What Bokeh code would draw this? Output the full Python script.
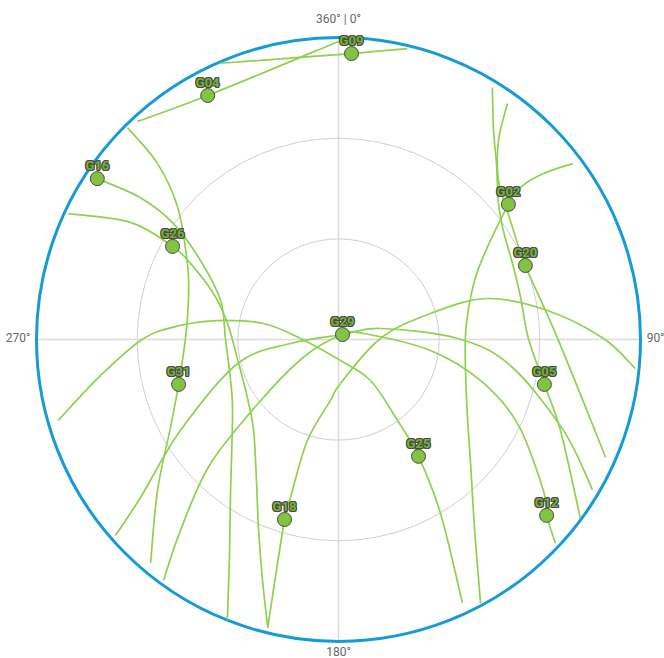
import numpy as np
from bokeh.plotting import figure
from bokeh.models import Range1d
from bokeh.core.properties import value
from bokeh.embed import file_html
from bokeh.resources import INLINE

# ---------------- data (azimuth deg, elevation deg) ----------------
sat_ids = ["G09", "G04", "G16", "G26", "G29", "G02", "G20", "G31", "G18", "G05", "G25", "G12"]
sat_az = [2.6, 331.8, 303.7, 299.3, 38.7, 51.5, 68.4, 254.3, 196.7, 102.3, 145.6, 130.2]
sat_el = [4.7, 7.5, 3.6, 33.3, 88.1, 25.3, 30.1, 40.5, 34.0, 27.2, 47.8, 8.8]

g09_az = [336.9, 348.3, 359.8, 2.6, 13.3]
g09_el = [0.5, 4.6, 5.1, 4.7, 0.9]
g04_az = [317.3, 331.8, 0.0]
g04_el = [1.6, 7.5, 1.2]
g16_az = [303.7, 305.6, 305.1, 299.8, 288.3, 270.5, 249.2, 235.1, 214.4, 206.3, 201.6]
g16_el = [3.6, 17.4, 29.9, 42.6, 53.0, 56.3, 55.6, 51.5, 33.0, 16.6, 0.0]
g26_az = [295.0, 299.4, 299.3, 297.2, 290.2, 278.2, 256.5, 237.5, 223.0, 210.2, 202.7, 197.5, 193.8]
g26_el = [1.2, 18.9, 33.3, 40.4, 50.3, 56.6, 59.4, 57.8, 52.9, 41.4, 28.3, 14.7, 1.6]
g31_az = [315.1, 314.2, 309.4, 296.7, 285.6, 270.4, 254.3, 242.4, 230.2, 220.1]
g31_el = [0.9, 14.8, 28.0, 39.6, 43.6, 44.4, 40.5, 33.5, 19.8, 3.1]
g18_az = [193.8, 196.7, 196.9, 197.1, 187.5, 177.4, 88.6, 74.2, 74.6, 82.1, 89.8, 95.6]
g18_el = [1.6, 34.0, 40.8, 58.5, 71.7, 76.9, 77.5, 61.5, 44.0, 27.1, 11.0, 1.1]
g02_az = [53.1, 51.0, 50.1, 51.5, 61.8, 72.4, 89.5, 115.5, 133.2, 144.5, 151.7]
g02_el = [2.7, 11.4, 19.3, 25.3, 42.0, 48.7, 52.2, 47.7, 36.0, 20.1, 0.7]
g20_az = [35.6, 38.8, 45.2, 55.3, 68.4, 89.7, 113.8]
g20_el = [3.5, 13.9, 22.8, 27.7, 30.1, 24.7, 3.0]
g05_az = [31.4, 36.6, 41.9, 49.6, 56.5, 66.4, 77.0, 89.7, 102.3, 112.3, 126.5]
g05_el = [2.0, 12.5, 19.5, 27.4, 31.1, 33.4, 34.3, 33.4, 27.2, 18.5, 0.3]
g25_az = [253.9, 261.4, 270.3, 275.1, 278.9, 282.0, 271.5, 174.6, 142.0, 143.9, 145.6, 149.6, 154.8]
g25_el = [3.1, 18.3, 31.9, 42.7, 53.5, 67.1, 78.7, 83.7, 74.5, 60.1, 47.8, 29.9, 3.3]
g29_az = [228.7, 231.4, 240.1, 256.6, 265.2, 38.7, 75.3, 89.5, 98.6, 112.0, 120.6]
g29_el = [1.5, 14.5, 35.7, 59.1, 75.6, 88.1, 77.1, 54.5, 38.2, 17.7, 2.1]
g12_az = [216.0, 219.6, 225.9, 232.3, 244.1, 38.7, 76.5, 96.8, 106.1, 115.1, 126.4, 130.2, 133.2]
g12_el = [1.3, 16.1, 36.9, 61.7, 79.1, 88.1, 82.3, 62.4, 46.0, 31.1, 14.1, 8.8, 1.3]

tracks = [
    (g09_az, g09_el), (g04_az, g04_el), (g16_az, g16_el), (g26_az, g26_el),
    (g31_az, g31_el), (g18_az, g18_el), (g02_az, g02_el), (g20_az, g20_el),
    (g05_az, g05_el), (g25_az, g25_el), (g29_az, g29_el), (g12_az, g12_el),
]

ring_elevations = [60, 30]
axis_label_az = [0, 90, 180, 270]
axis_label_text = ["360° | 0°", "90°", "180°", "270°"]

# ---------------- helpers ----------------
def to_xy(az, el):
    az = np.radians(np.asarray(az, dtype=float))
    rho = 90.0 - np.asarray(el, dtype=float)
    return rho * np.sin(az), rho * np.cos(az)

def smooth_segments(x, y):
    """Catmull-Rom through the points, expressed as cubic Bezier segments."""
    P = np.column_stack([x, y])
    n = len(P)
    Pe = np.vstack([P[0], P, P[-1]])
    x0, y0, x1, y1, cx0, cy0, cx1, cy1 = ([] for _ in range(8))
    for i in range(n - 1):
        pm, p0, p1, p2 = Pe[i], Pe[i + 1], Pe[i + 2], Pe[i + 3]
        c0 = p0 + (p1 - pm) / 6.0
        c1 = p1 - (p2 - p0) / 6.0
        x0.append(p0[0]); y0.append(p0[1]); x1.append(p1[0]); y1.append(p1[1])
        cx0.append(c0[0]); cy0.append(c0[1]); cx1.append(c1[0]); cy1.append(c1[1])
    return dict(x0=x0, y0=y0, x1=x1, y1=y1, cx0=cx0, cy0=cy0, cx1=cx1, cy1=cy1)

W, H = 664, 658
CX, CY, RPX = 338, 339, 302
k = 90.0 / RPX

p = figure(width=W, height=H, output_backend="svg", toolbar_location=None,
           x_range=Range1d(-CX * k, (W - CX) * k),
           y_range=Range1d(-(H - CY) * k, CY * k),
           min_border=0, background_fill_color="white", border_fill_color="white")
p.axis.visible = False
p.grid.visible = False
p.outline_line_color = None

GRID = "#dcdcdc"
p.line([-90, 90], [0, 0], line_color=GRID, line_width=1.6)
p.line([0, 0], [-90, 90], line_color=GRID, line_width=1.6)
for e in ring_elevations:
    p.circle(x=0, y=0, radius=90 - e, fill_color=None, line_color="#cfcfcf", line_width=1)
p.circle(x=0, y=0, radius=90, fill_color=None, line_color="#159bd8", line_width=3)

for az, el in tracks:
    x, y = to_xy(az, el)
    seg = smooth_segments(x, y)
    p.bezier(x0=seg["x0"], y0=seg["y0"], x1=seg["x1"], y1=seg["y1"],
             cx0=seg["cx0"], cy0=seg["cy0"], cx1=seg["cx1"], cy1=seg["cy1"],
             line_color="#8fd14f", line_width=1.7)

sx, sy = to_xy(sat_az, sat_el)
p.scatter(sx, sy, size=14, fill_color="#82c341", line_color="#4a4a4a", line_width=1)

font = value("Roboto")
for dx in (-1, 0, 1):
    for dy in (-1, 0, 1):
        if dx == 0 and dy == 0:
            continue
        p.text(sx, sy, text=sat_ids, text_font=font, text_font_size="13px",
               text_font_style="bold", text_align="center", text_baseline="middle",
               x_offset=dx, y_offset=-13 + dy, text_color="#4a4a4a")
p.text(sx, sy, text=sat_ids, text_font=font, text_font_size="13px",
       text_font_style="bold", text_align="center", text_baseline="middle",
       x_offset=0, y_offset=-13, text_color="#72b530")

lx = [96 * np.sin(np.radians(a)) for a in axis_label_az]
ly = [96 * np.cos(np.radians(a)) for a in axis_label_az]
aligns = {0: "center", 90: "left", 180: "center", 270: "right"}
xo = {0: 0, 90: -14, 180: 0, 270: 14}
yo = {0: 2, 90: -2, 180: -10, 270: -2}
for i, a in enumerate(axis_label_az):
    p.text([lx[i]], [ly[i]], text=[axis_label_text[i]], text_font=font,
           text_font_size="12px", text_align=aligns[a], text_baseline="middle",
           text_color="#666666", x_offset=xo[a], y_offset=yo[a])

open("out.html", "w").write(file_html(p, INLINE))
